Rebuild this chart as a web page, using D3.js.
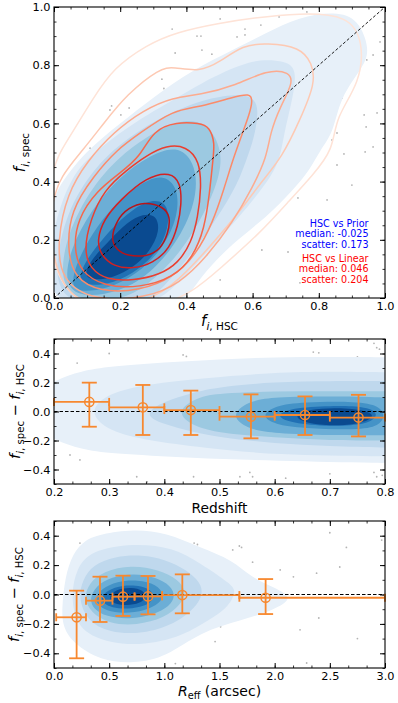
<!DOCTYPE html>
<html>
<head>
<meta charset="utf-8">
<script src="https://cdn.jsdelivr.net/npm/d3@7"></script>
<style>
  body { margin: 0; background: #fff; }
  svg { font-family: "DejaVu Sans", sans-serif; }
</style>
</head>
<body>
<svg id="chart" width="398" height="703"></svg>
<script>
// ---- colours of the kde levels (outer -> inner)
const blues = ["#e7f0f9", "#d5e5f4", "#bfd8ed", "#9cc9e1", "#6caed6", "#4493c7", "#2070b4", "#0a4a90"];
const reds = ["#fee3d7", "#fdc9b3", "#fcab8f", "#fb8b6a", "#f6664a", "#ea3e2f", "#d42121", "#b81419"];
const orange = "#f7882f";

// ---- panel 1: f_i,HSC vs f_i,spec
const fTicks = [0, 0.2, 0.4, 0.6, 0.8, 1.0];

const fBands = [
  [[-0.03,0.0],[-0.02,0.25],[0.0,0.37],[0.1,0.51],[0.2,0.6],[0.3,0.69],[0.42,0.785],[0.54,0.852],[0.64,0.91],[0.74,0.966],[0.85,0.985],[0.92,0.96],[0.955,0.852],[0.934,0.794],[0.864,0.69],[0.844,0.567],[0.804,0.509],[0.773,0.44],[0.722,0.371],[0.643,0.278],[0.54,0.189],[0.44,0.072],[0.39,-0.03],[0.2,-0.05]],
  [[0.0,0.25],[0.05,0.42],[0.13,0.51],[0.25,0.61],[0.39,0.7],[0.48,0.76],[0.56,0.8],[0.62,0.82],[0.7,0.815],[0.735,0.784],[0.72,0.68],[0.695,0.567],[0.683,0.474],[0.643,0.395],[0.562,0.28],[0.44,0.13],[0.35,0.02],[0.28,-0.03],[0.0,-0.04],[-0.02,0.1]],
  [[0.01,0.18],[0.06,0.35],[0.16,0.5],[0.3,0.61],[0.44,0.68],[0.54,0.7],[0.6,0.695],[0.62,0.65],[0.605,0.55],[0.58,0.47],[0.55,0.38],[0.48,0.25],[0.38,0.1],[0.3,0.0],[0.25,-0.03],[0.0,-0.03]],
  [[0.02,0.14],[0.07,0.3],[0.16,0.45],[0.27,0.55],[0.38,0.615],[0.46,0.605],[0.505,0.52],[0.505,0.43],[0.46,0.3],[0.38,0.15],[0.28,0.04],[0.2,-0.01],[0.03,-0.01]],
  [[0.03,0.05],[0.05,0.17],[0.11,0.3],[0.2,0.42],[0.29,0.49],[0.37,0.525],[0.425,0.47],[0.435,0.36],[0.39,0.22],[0.3,0.09],[0.2,0.02],[0.08,0.0]],
  [[0.05,0.04],[0.07,0.13],[0.13,0.25],[0.2,0.34],[0.27,0.4],[0.33,0.425],[0.375,0.38],[0.375,0.28],[0.33,0.17],[0.25,0.08],[0.16,0.03],[0.08,0.02]],
  [[0.07,0.05],[0.09,0.12],[0.15,0.21],[0.22,0.29],[0.28,0.335],[0.335,0.335],[0.35,0.28],[0.335,0.2],[0.29,0.13],[0.22,0.07],[0.14,0.04]],
  [[0.09,0.075],[0.11,0.13],[0.17,0.2],[0.22,0.26],[0.27,0.29],[0.31,0.285],[0.32,0.23],[0.29,0.16],[0.24,0.105],[0.18,0.07],[0.12,0.06]]
];

const fLines = [
  [[0.04,0.54],[0.12,0.69],[0.18,0.79],[0.28,0.87],[0.37,0.914],[0.5,0.945],[0.6,0.962],[0.74,0.979],[0.89,0.973],[0.935,0.88],[0.925,0.74],[0.85,0.62],[0.844,0.51],[0.78,0.42],[0.713,0.337],[0.62,0.22],[0.5,0.1],[0.42,0.02],[0.3,-0.04],[0.05,-0.05],[-0.03,0.2],[-0.01,0.45]],
  [[0.02,0.42],[0.088,0.509],[0.15,0.6],[0.22,0.7],[0.32,0.79],[0.36,0.794],[0.44,0.777],[0.5,0.81],[0.571,0.87],[0.643,0.876],[0.743,0.863],[0.78,0.807],[0.79,0.739],[0.743,0.612],[0.69,0.485],[0.62,0.39],[0.55,0.28],[0.45,0.15],[0.36,0.04],[0.25,-0.03],[0.05,-0.03],[-0.01,0.15],[-0.01,0.32]],
  [[0.04,0.36],[0.1,0.47],[0.18,0.57],[0.27,0.646],[0.36,0.69],[0.44,0.698],[0.55,0.73],[0.643,0.784],[0.713,0.777],[0.722,0.739],[0.683,0.656],[0.653,0.567],[0.643,0.485],[0.6,0.38],[0.54,0.26],[0.46,0.14],[0.38,0.05],[0.28,0.0],[0.12,-0.01],[0.02,0.06],[0.01,0.2]],
  [[0.05,0.3],[0.12,0.42],[0.19,0.51],[0.26,0.567],[0.36,0.646],[0.44,0.656],[0.54,0.69],[0.592,0.704],[0.6,0.68],[0.592,0.636],[0.562,0.543],[0.54,0.474],[0.515,0.38],[0.48,0.26],[0.43,0.15],[0.36,0.07],[0.26,0.025],[0.14,0.02],[0.06,0.07],[0.04,0.17]],
  [[0.07,0.27],[0.13,0.37],[0.2,0.43],[0.26,0.485],[0.3,0.577],[0.37,0.605],[0.44,0.601],[0.47,0.588],[0.486,0.533],[0.48,0.474],[0.47,0.36],[0.455,0.24],[0.42,0.14],[0.36,0.07],[0.26,0.035],[0.15,0.04],[0.08,0.09],[0.06,0.17]],
  [[0.09,0.165],[0.11,0.27],[0.151,0.371],[0.22,0.44],[0.28,0.49],[0.34,0.525],[0.4,0.522],[0.44,0.47],[0.445,0.38],[0.435,0.28],[0.415,0.19],[0.375,0.12],[0.32,0.08],[0.24,0.06],[0.16,0.062],[0.11,0.1]],
  [[0.13,0.2],[0.15,0.27],[0.2,0.337],[0.28,0.416],[0.352,0.434],[0.383,0.395],[0.385,0.32],[0.375,0.25],[0.35,0.17],[0.3,0.12],[0.24,0.1],[0.18,0.107],[0.14,0.15]],
  [[0.171,0.2],[0.19,0.27],[0.225,0.31],[0.272,0.331],[0.33,0.315],[0.352,0.28],[0.345,0.22],[0.32,0.165],[0.28,0.142],[0.22,0.145],[0.19,0.165]]
];

const fDots = [
  [0.357,0.924],[0.366,0.842],[0.326,0.752],[0.332,0.72],[0.174,0.66],[0.169,0.646],[0.227,0.653],[0.202,0.629],
  [0.109,0.515],[0.129,0.519],[0.432,0.9],[0.444,0.9],[0.502,0.959],[0.577,0.924],[0.577,0.904],[0.553,0.897],
  [0.447,0.852],[0.477,0.838],[0.625,0.938],[0.68,0.966],[0.764,0.983],[0.858,0.966],[0.855,0.948],[0.722,0.938],
  [0.985,0.88],[0.964,0.835],[0.945,0.818],[0.87,0.687],[0.937,0.629],[0.976,0.636],[0.943,0.588],[0.84,0.543],
  [0.855,0.567],[0.876,0.495],[0.94,0.502],[0.964,0.519],[0.855,0.457],[0.9,0.388],[0.825,0.337],[0.737,0.344],
  [0.628,0.165],[0.707,0.158],[0.502,0.062],[0.743,0.052],[0.773,0.175]
];

const statsPrior = ["HSC vs Prior", "median: -0.025", "scatter: 0.173"];
const statsLinear = ["HSC vs Linear", "median: 0.046", "scatter: 0.204"];

// ---- panel 2: residual vs redshift
const zTicks = [0.2, 0.3, 0.4, 0.5, 0.6, 0.7, 0.8];
const dTicks = [-0.4, -0.2, 0.0, 0.2, 0.4];

const zBands = [
  [[0.2,0.22],[0.25,0.28],[0.3,0.31],[0.4,0.34],[0.5,0.36],[0.6,0.375],[0.7,0.376],[0.8,0.375],[0.86,0.37],[0.86,-0.36],[0.8,-0.355],[0.6,-0.34],[0.45,-0.32],[0.3,-0.29],[0.25,-0.26],[0.2,-0.2],[0.17,-0.1],[0.16,0.0],[0.17,0.1]],
  [[0.26,0.0],[0.3,0.13],[0.37,0.19],[0.47,0.23],[0.6,0.27],[0.7,0.275],[0.8,0.27],[0.86,0.27],[0.86,-0.31],[0.8,-0.31],[0.6,-0.3],[0.47,-0.25],[0.37,-0.2],[0.3,-0.14]],
  [[0.36,-0.02],[0.4,0.07],[0.45,0.13],[0.5,0.17],[0.6,0.205],[0.7,0.21],[0.8,0.21],[0.86,0.21],[0.86,-0.25],[0.8,-0.25],[0.7,-0.24],[0.6,-0.22],[0.5,-0.18],[0.45,-0.14],[0.4,-0.09]],
  [[0.42,0.0],[0.46,0.1],[0.5,0.125],[0.6,0.14],[0.7,0.14],[0.8,0.14],[0.86,0.14],[0.86,-0.2],[0.8,-0.2],[0.7,-0.2],[0.6,-0.18],[0.5,-0.15],[0.45,-0.1]],
  [[0.52,-0.03],[0.55,0.07],[0.6,0.1],[0.7,0.105],[0.8,0.1],[0.84,0.08],[0.85,-0.04],[0.84,-0.16],[0.8,-0.165],[0.7,-0.165],[0.6,-0.15],[0.55,-0.12]],
  [[0.575,-0.03],[0.6,0.04],[0.65,0.065],[0.75,0.07],[0.79,0.04],[0.8,-0.03],[0.79,-0.1],[0.75,-0.13],[0.65,-0.115],[0.6,-0.09]],
  [[0.6,-0.03],[0.63,0.025],[0.7,0.04],[0.77,0.035],[0.79,-0.02],[0.77,-0.09],[0.7,-0.105],[0.63,-0.08]],
  [[0.635,-0.03],[0.66,0.015],[0.72,0.03],[0.775,0.0],[0.78,-0.045],[0.75,-0.09],[0.69,-0.1],[0.65,-0.07]]
];

const zDots = [
  [0.242,0.334],[0.229,-0.3],[0.247,-0.334],[0.35,-0.45],[0.369,-0.486],[0.434,0.39],[0.44,0.38],[0.453,-0.45],
  [0.48,0.34],[0.67,0.41],[0.68,0.405],[0.75,0.376],[0.78,0.47],[0.785,0.44],[0.79,0.43],[0.537,-0.45],
  [0.555,-0.42],[0.56,-0.45],[0.78,-0.42],[0.785,-0.45],[0.795,-0.44],[0.3,0.4],[0.62,-0.46],[0.7,-0.43]
];

const zBinLo = [0.2, 0.3, 0.4, 0.5, 0.6, 0.7];
const zBinHi = [0.3, 0.4, 0.5, 0.6, 0.7, 0.8];
const zCenter = [0.264, 0.361, 0.448, 0.557, 0.655, 0.752];
const zMed = [0.066, 0.029, 0.01, -0.036, -0.024, -0.042];
const zHi = [0.199, 0.183, 0.144, 0.118, 0.104, 0.115];
const zLo = [-0.105, -0.162, -0.162, -0.185, -0.162, -0.172];

// ---- panel 3: residual vs R_eff
const rTicks = [0, 0.5, 1.0, 1.5, 2.0, 2.5, 3.0];

const rBands = [
  [[0.08,-0.22],[0.07,-0.1],[0.1,0.12],[0.17,0.28],[0.28,0.37],[0.42,0.41],[0.72,0.445],[1.02,0.42],[1.32,0.32],[1.62,0.235],[1.78,0.12],[1.99,0.05],[2.18,-0.025],[1.99,-0.105],[1.71,-0.173],[1.32,-0.255],[1.02,-0.425],[0.72,-0.47],[0.42,-0.45],[0.17,-0.33]],
  [[0.16,0.01],[0.2,0.17],[0.33,0.3],[0.72,0.35],[1.08,0.32],[1.32,0.215],[1.62,0.065],[1.65,0.01],[1.56,-0.105],[1.32,-0.21],[1.14,-0.29],[0.72,-0.36],[0.3,-0.29],[0.18,-0.15]],
  [[0.22,-0.02],[0.26,0.1],[0.35,0.2],[0.55,0.26],[0.8,0.27],[1.0,0.24],[1.2,0.17],[1.33,0.08],[1.35,0.0],[1.28,-0.09],[1.1,-0.2],[0.8,-0.27],[0.5,-0.26],[0.3,-0.18]],
  [[0.27,-0.02],[0.32,0.08],[0.45,0.16],[0.7,0.2],[0.95,0.17],[1.13,0.1],[1.2,0.02],[1.15,-0.07],[1.0,-0.16],[0.75,-0.21],[0.5,-0.2],[0.33,-0.12]],
  [[0.32,-0.03],[0.38,0.06],[0.52,0.12],[0.72,0.145],[0.92,0.12],[1.06,0.06],[1.1,-0.01],[1.05,-0.08],[0.9,-0.14],[0.68,-0.17],[0.47,-0.15],[0.36,-0.1]],
  [[0.37,-0.03],[0.43,0.04],[0.57,0.09],[0.76,0.1],[0.93,0.07],[1.0,0.0],[0.96,-0.06],[0.83,-0.11],[0.63,-0.13],[0.47,-0.11],[0.4,-0.07]],
  [[0.42,-0.03],[0.48,0.03],[0.62,0.065],[0.8,0.06],[0.9,0.02],[0.9,-0.04],[0.82,-0.08],[0.67,-0.1],[0.52,-0.09],[0.45,-0.06]],
  [[0.49,-0.02],[0.56,0.035],[0.7,0.05],[0.81,0.03],[0.84,-0.02],[0.78,-0.06],[0.66,-0.075],[0.54,-0.065]]
];

const rDots = [
  [0.235,0.35],[0.16,0.167],[1.62,0.303],[1.68,0.33],[1.8,0.22],[2.05,0.167],[2.17,0.12],[2.38,0.145],
  [2.59,0.187],[2.65,0.32],[2.97,0.37],[2.4,-0.16],[2.23,-0.24],[2.29,-0.466],[1.46,-0.32],[1.27,0.35],
  [1.3,0.34],[1.7,0.32],[0.71,-0.425],[1.51,-0.22],[2.75,-0.3],[2.5,0.42],[1.1,-0.47]
];

const rBinLo = [0.02, 0.29, 0.53, 0.73, 0.98, 1.68];
const rBinHi = [0.29, 0.53, 0.73, 0.98, 1.68, 3.0];
const rCenter = [0.205, 0.417, 0.625, 0.852, 1.163, 1.918];
const rMed = [-0.155, -0.042, -0.015, -0.013, -0.004, -0.022];
const rHi = [0.026, 0.121, 0.128, 0.126, 0.137, 0.105];
const rLo = [-0.434, -0.187, -0.146, -0.135, -0.128, -0.133];

// ---- layout
const L = 54, R = 385;
const svg = d3.select("#chart");
const fmt = d3.format(".1f");

function drawPanel(p) {
  const x = d3.scaleLinear().domain(p.xDomain).range([L, R]);
  const y = d3.scaleLinear().domain(p.yDomain).range([p.bottom, p.top]);
  const g = svg.append("g");

  svg.append("clipPath").attr("id", "clip" + p.id)
    .append("rect")
    .attr("x", L).attr("y", p.top)
    .attr("width", R - L).attr("height", p.bottom - p.top);

  const plot = g.append("g").attr("clip-path", "url(#clip" + p.id + ")");
  // smooth closed curves through the outline points
  const shape = d3.line()
    .x((d) => x(d[0]))
    .y((d) => y(d[1]))
    .curve(d3.curveBasisClosed);

  plot.selectAll("circle.dot")
    .data(p.dots)
    .join("circle")
    .attr("class", "dot")
    .attr("cx", (d) => x(d[0]))
    .attr("cy", (d) => y(d[1]))
    .attr("r", 0.9)
    .attr("fill", "#b4b4b4");

  plot.selectAll("path.band")
    .data(p.bands)
    .join("path")
    .attr("class", "band")
    .attr("d", shape)
    .attr("fill", (d, i) => blues[i]);

  if (p.lines) {
    plot.selectAll("path.kde")
      .data(p.lines)
      .join("path")
      .attr("class", "kde")
      .attr("d", shape)
      .attr("fill", "none")
      .attr("stroke", (d, i) => reds[i])
      .attr("stroke-width", 1.5);
  }

  // axes, ticks pointing inwards on all four sides
  const addAxis = (gen, tr, vals, size, labels, pad) => {
    const a = g.append("g")
      .attr("transform", tr)
      .call(gen.tickValues(vals).tickSize(size).tickSizeOuter(0)
        .tickPadding(pad).tickFormat(labels ? fmt : ""));
    a.select(".domain").remove();
    a.attr("font-size", 11.3).attr("font-family", "DejaVu Sans");
    a.selectAll("line").attr("stroke-width", size < -3 ? 1 : 0.8);
    return a;
  };
  const xMinor = d3.range(p.xDomain[0], p.xDomain[1] + 1e-9, p.xMinor);
  const yMinor = d3.range(p.yDomain[0], p.yDomain[1] + 1e-9, p.yMinor);

  addAxis(d3.axisBottom(x), `translate(0,${p.bottom})`, xMinor, -2.5, false, 4);
  addAxis(d3.axisTop(x), `translate(0,${p.top})`, xMinor, -2.5, false, 4);
  addAxis(d3.axisLeft(y), `translate(${L},0)`, yMinor, -2.5, false, 4);
  addAxis(d3.axisRight(y), `translate(${R},0)`, yMinor, -2.5, false, 4);
  addAxis(d3.axisBottom(x), `translate(0,${p.bottom})`, p.xTicks, -5, true, 4);
  addAxis(d3.axisTop(x), `translate(0,${p.top})`, p.xTicks, -5, false, 4);
  addAxis(d3.axisLeft(y), `translate(${L},0)`, p.yTicks, -5, true, 3.5);
  addAxis(d3.axisRight(y), `translate(${R},0)`, p.yTicks, -5, false, 4);

  return { g, x, y, plot };
}

function frame(g, top, bottom) {
  g.append("rect")
    .attr("x", L).attr("y", top)
    .attr("width", R - L).attr("height", bottom - top)
    .attr("fill", "none")
    .attr("stroke", "#000")
    .attr("stroke-width", 1.1);
}

// label with math-style subscripts; parts: [text, italic, subscript]
function mathText(g, x, y, parts, rotate, size) {
  const t = g.append("text")
    .attr("x", x).attr("y", y)
    .attr("text-anchor", "middle")
    .attr("font-size", size)
    .attr("fill", "#000");
  if (rotate) t.attr("transform", `rotate(-90,${x},${y})`);
  let inSub = false;
  parts.forEach(([s, it, sub]) => {
    const ts = t.append("tspan").text(s)
      .attr("font-size", sub ? size * 0.7 : size)
      .attr("font-style", it ? "italic" : "normal");
    if (sub && !inSub) ts.attr("dy", 3.6);
    if (!sub && inSub) ts.attr("dy", -3.6);
    inSub = sub;
  });
  return t;
}

function zeroLine(p) {
  p.plot.append("line")
    .attr("x1", L).attr("x2", R)
    .attr("y1", p.y(0)).attr("y2", p.y(0))
    .attr("stroke", "#000")
    .attr("stroke-width", 1)
    .attr("stroke-dasharray", "3.5,2");
}

function errorBars(p, lo, hi, cx, med, ylo, yhi) {
  const eb = p.g.append("g")
    .attr("stroke", orange)
    .attr("stroke-width", 1.8)
    .attr("fill", "none");
  cx.forEach((c, i) => {
    const yc = p.y(med[i]);
    eb.append("line").attr("x1", p.x(lo[i])).attr("x2", p.x(hi[i])).attr("y1", yc).attr("y2", yc);
    [lo[i], hi[i]].forEach((v) => {
      eb.append("line").attr("x1", p.x(v)).attr("x2", p.x(v)).attr("y1", yc - 4).attr("y2", yc + 4);
    });
    eb.append("line").attr("x1", p.x(c)).attr("x2", p.x(c)).attr("y1", p.y(ylo[i])).attr("y2", p.y(yhi[i]));
    [ylo[i], yhi[i]].forEach((v) => {
      eb.append("line").attr("x1", p.x(c) - 7.5).attr("x2", p.x(c) + 7.5).attr("y1", p.y(v)).attr("y2", p.y(v));
    });
    eb.append("circle").attr("cx", p.x(c)).attr("cy", yc).attr("r", 4.6).attr("stroke-width", 1.5);
  });
}

// ---- panel 1
const p1 = drawPanel({
  id: 1, top: 7, bottom: 298,
  xDomain: [0, 1], yDomain: [0, 1],
  xTicks: fTicks, yTicks: fTicks, xMinor: 0.05, yMinor: 0.05,
  bands: fBands, lines: fLines, dots: fDots
});
p1.plot.append("line")
  .attr("x1", p1.x(0)).attr("y1", p1.y(0))
  .attr("x2", p1.x(1)).attr("y2", p1.y(1))
  .attr("stroke", "#000")
  .attr("stroke-width", 0.9)
  .attr("stroke-dasharray", "3,2");
frame(p1.g, 7, 298);

const statY = [226.5, 237.2, 247.8];
statsPrior.forEach((s, i) => {
  p1.g.append("text").attr("x", 368.5).attr("y", statY[i])
    .attr("text-anchor", "end").attr("font-size", 9.6).attr("fill", "#0000ff").text(s);
});
statsLinear.forEach((s, i) => {
  p1.g.append("text").attr("x", 368.5).attr("y", statY[i] + 35)
    .attr("text-anchor", "end").attr("font-size", 9.6).attr("fill", "#ff0000").text(s);
});

mathText(svg, 219.5, 326, [["f", true, false], ["i", true, true], [", HSC", false, true]], false, 15);
mathText(svg, 25, 152.5, [["f", true, false], ["i", true, true], [", spec", false, true]], true, 15);

// ---- panel 2
const p2 = drawPanel({
  id: 2, top: 339, bottom: 484,
  xDomain: [0.2, 0.8], yDomain: [-0.5, 0.5],
  xTicks: zTicks, yTicks: dTicks, xMinor: 0.1 / 3, yMinor: 0.1,
  bands: zBands, dots: zDots
});
zeroLine(p2);
errorBars(p2, zBinLo, zBinHi, zCenter, zMed, zLo, zHi);
frame(p2.g, 339, 484);

svg.append("text").attr("x", 219.5).attr("y", 513)
  .attr("text-anchor", "middle").attr("font-size", 13.8).text("Redshift");

const resParts = [
  ["f", true, false], ["i", true, true], [", spec", false, true],
  [" \u2212 ", false, false],
  ["f", true, false], ["i", true, true], [", HSC", false, true]
];
mathText(svg, 20, 411.5, resParts, true, 14.5);

// ---- panel 3
const p3 = drawPanel({
  id: 3, top: 521, bottom: 668,
  xDomain: [0, 3], yDomain: [-0.5, 0.5],
  xTicks: rTicks, yTicks: dTicks, xMinor: 0.5 / 3, yMinor: 0.1,
  bands: rBands, dots: rDots
});
zeroLine(p3);
errorBars(p3, rBinLo, rBinHi, rCenter, rMed, rLo, rHi);
frame(p3.g, 521, 668);

mathText(svg, 219.5, 695.5, [["R", true, false], ["eff", false, true], [" (arcsec)", false, false]], false, 14);
mathText(svg, 19, 594.5, resParts, true, 14.5);
</script>
</body>
</html>
